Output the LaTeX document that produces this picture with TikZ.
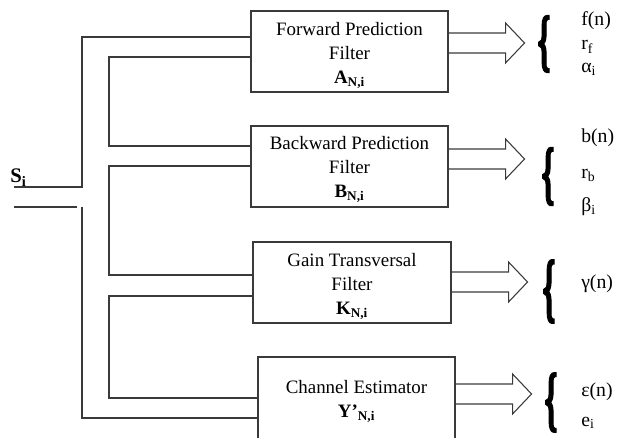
\documentclass[tikz,border=0pt]{standalone}
\usepackage{fontspec}
\setmainfont{Liberation Serif}
\newfontfamily\bracefont[FakeBold=3]{Liberation Serif}
\usepackage{graphicx}
\definecolor{ln}{HTML}{3A3A3A}
\newcommand\blockarrow[2]{\draw[wire] (#1.east|-0,#2) ++(0,-10) -- ++(57,0) -- ++(0,-10) -- ++(19,20) -- ++(-19,20) -- ++(0,-10) -- ++(-57,0);}
\newcommand\bigbrace[2]{\resizebox*{#1}{#2}{\bracefont\bfseries\{}}
\begin{document}
\begin{tikzpicture}[x=0.75pt,y=-0.75pt,
  box/.style={draw=ln, line width=0.8pt, minimum width=147.75pt, minimum height=60.75pt, inner sep=0pt},
  boxtext/.style={inner sep=0pt, align=center, font=\fontsize{14.2}{18}\selectfont},
  wire/.style={draw=ln, line width=0.8pt},
  lbl/.style={anchor=base west, inner sep=0pt, font=\fontsize{14.8}{16}\selectfont},
  bracenode/.style={inner sep=0pt}]
\useasboundingbox (0,0) rectangle (617,438);
\clip (0,0) rectangle (617,438);
% boxes
\node[box] (b1) at (349.5,51.5) {};
\node[box] (b2) at (349.5,166.5) {};
\node[box, minimum width=148.5pt] (b3) at (352,282.5) {};
\node[box, minimum height=63pt] (b4) at (356.5,399) {};
\node[boxtext] (t1) at ([yshift=-3pt]b1.center) {Forward Prediction\\Filter\\\textbf{A}\textsubscript{\textbf{N,i}}};
\node[boxtext] (t2) at ([yshift=-2.5pt]b2.center) {Backward Prediction\\Filter\\\textbf{B}\textsubscript{\textbf{N,i}}};
\node[boxtext] (t3) at ([yshift=-3pt]b3.center) {Gain Transversal\\Filter\\\textbf{K}\textsubscript{\textbf{N,i}}};
\node[boxtext] (t4) at ([yshift=-2pt]b4.center) {Channel Estimator\\\textbf{Y’}\textsubscript{\textbf{N,i}}};
% input
\node[anchor=base west, inner sep=0pt, font=\fontsize{15.5}{18}\selectfont] (si) at (10,183) {\textbf{S}\textsubscript{\textbf{i}}};
\coordinate (in1) at (14,187);
\coordinate (in2) at (14,207);
\coordinate (in2e) at (77,207);
\draw[wire] (in1) -| (82,37) -- (b1.west|-0,37);
\draw[wire] (in2) -- (in2e);
\draw[wire] (82,207) |- (b4.west|-0,418);
\draw[wire] (b1.west|-0,57) -- (109,57) -- (109,146) -- (b2.west|-0,146);
\draw[wire] (b2.west|-0,166) -- (109,166) -- (109,275) -- (b3.west|-0,275);
\draw[wire] (b3.west|-0,296) -- (109,296) -- (109,398) -- (b4.west|-0,398);
% block arrows
\blockarrow{b1}{43}
\blockarrow{b2}{159}
\blockarrow{b3}{282}
\blockarrow{b4}{394}
% braces
\node[bracenode] (br1) at (544,44) {\bigbrace{9.5pt}{42pt}};
\node[bracenode] (br2) at (548,176.5) {\bigbrace{9.5pt}{43pt}};
\node[bracenode] (br3) at (549,291.5) {\bigbrace{9.5pt}{47pt}};
\node[bracenode] (br4) at (551,402.5) {\bigbrace{9.5pt}{44pt}};
% labels
\node[lbl] (fn) at (581,26) {f(n)};
\node[lbl] (rf) at (581,50) {r\textsubscript{f}};
\node[lbl] (al) at (581,73) {α\textsubscript{i}};
\node[lbl] (bn) at (581,143) {b(n)};
\node[lbl] (rb) at (581,179) {r\textsubscript{b}};
\node[lbl] (be) at (581,212) {β\textsubscript{i}};
\node[lbl] (gn) at (581,288) {γ(n)};
\node[lbl] (en) at (581,396) {ε(n)};
\node[lbl] (ei) at (581,426) {e\textsubscript{i}};
\end{tikzpicture}
\end{document}
